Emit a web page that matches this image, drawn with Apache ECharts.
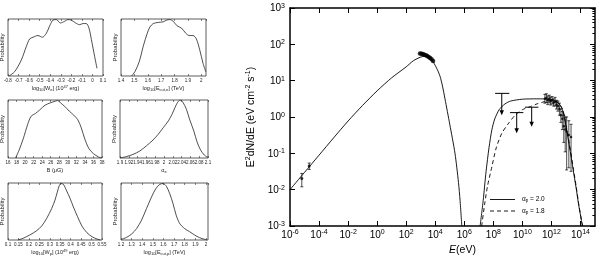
<!DOCTYPE html>
<html><head><meta charset="utf-8">
<script src="https://cdn.jsdelivr.net/npm/echarts@6/dist/echarts.min.js"></script>
<style>html,body{margin:0;padding:0;background:#fff}#c{width:600px;height:257px}</style>
</head><body><div id="c"></div><script>
// ---- posterior panels ----
const p1X = [-0.79,-0.737,-0.674,-0.626,-0.595,-0.563,-0.516,-0.475,-0.437,-0.40,-0.374,-0.342,-0.304,-0.263,-0.232,-0.20,-0.159,-0.121,-0.09,-0.058,-0.033,-0.01,0.021,0.043];
const p1Y = [0.0,0.076,0.28,0.52,0.65,0.68,0.71,0.68,0.75,0.90,0.98,0.99,0.93,0.96,0.99,0.98,0.93,0.90,0.92,0.92,0.84,0.64,0.34,0.135];
const p2X = [1.479,1.504,1.536,1.566,1.596,1.616,1.641,1.678,1.715,1.74,1.765,1.79,1.819,1.852,1.884,1.909,1.938,1.963,1.988,2.013,2.033];
const p2Y = [0,0.076,0.25,0.52,0.75,0.86,0.92,0.94,0.95,0.98,0.99,0.96,0.88,0.84,0.75,0.71,0.71,0.65,0.46,0.22,0.076];
const p3X = [17.78,18.59,19.56,20.61,21.42,22.47,23.44,24.66,25.87,27.08,27.65,28.3,29.27,30.32,31.37,32.34,33.15,33.96,34.93,35.98,37.2,38.0];
const p3Y = [0,0.134,0.33,0.58,0.72,0.77,0.83,0.91,0.95,0.98,0.99,0.95,0.89,0.81,0.74,0.66,0.52,0.33,0.163,0.076,0.017,0];
const p4X = [1.9,1.914,1.929,1.945,1.96,1.975,1.987,1.998,2.01,2.018,2.025,2.031,2.037,2.043,2.051,2.058,2.068,2.075,2.083,2.092,2.1];
const p4Y = [0,0.024,0.06,0.12,0.21,0.31,0.41,0.52,0.64,0.75,0.87,0.96,1.0,0.96,0.84,0.67,0.46,0.28,0.14,0.047,0.012];
const p5X = [0.148,0.172,0.204,0.237,0.261,0.285,0.309,0.325,0.336,0.346,0.354,0.365,0.381,0.397,0.413,0.433,0.454,0.478,0.502,0.526,0.542];
const p5Y = [0,0.03,0.087,0.163,0.244,0.378,0.552,0.70,0.84,0.96,0.99,0.977,0.86,0.73,0.58,0.41,0.244,0.128,0.058,0.017,0];
const p6X = [1.206,1.253,1.3,1.347,1.394,1.44,1.488,1.528,1.566,1.597,1.628,1.66,1.69,1.72,1.753,1.8,1.847,1.894,1.94,1.988,2.009];
const p6Y = [0.012,0.047,0.105,0.20,0.35,0.55,0.756,0.90,0.977,0.99,0.942,0.81,0.64,0.436,0.29,0.2,0.145,0.087,0.041,0.012,0];

// ---- SED ----
const synE = [1e-6,1e-5,1e-4,1e-3,1e-2,0.1,1,10,100,316,1000,1780,3160,7080,1.41e4,2.14e4,3.16e4,4.68e4,1e5,2.29e5,3.98e5,5.13e5,6.76e5];
const synF = [0.01,0.0299,0.0891,0.266,0.776,2.09,5.25,12.0,24.0,35.5,44.7,46.8,44.7,33.1,20.0,13.2,7.08,3.16,0.63,0.1,0.0158,0.005,0.001];
const pp20E = [1.23e7,2.0e7,3.16e7,5.01e7,7.94e7,1.26e8,2.51e8,6.31e8,1.58e9,1e10,1e11,1e12,3.16e12,6.31e12,1.15e13,2.0e13,3.16e13,5.01e13,7.24e13,1.35e14];
const pp20F = [0.001,0.005,0.0316,0.141,0.447,0.891,1.585,2.29,2.75,3.09,3.16,3.02,2.40,1.41,0.398,0.112,0.0347,0.0112,0.00417,0.001];
const pp18E = [1.58e7,2.51e7,3.98e7,7.94e7,1.58e8,3.8e8,1e9,3.16e9,1e10,3.16e10,1e11,3.16e11,1e12,3.16e12,6.31e12,1.15e13,2.0e13,3.16e13,5.01e13,7.94e13,1.41e14];
const pp18F = [0.001,0.00398,0.0126,0.0427,0.141,0.355,0.631,1.12,1.585,1.905,2.29,2.63,2.82,2.40,1.51,0.447,0.126,0.0398,0.0126,0.00355,0.001];
const radioE = [6.5e-6,2.1e-5];
const radioF = [0.0204,0.0447];
const radioLo = [0.012,0.036];
const radioHi = [0.028,0.054];
const xrayE = [891,1122,1413,1778,2239,2818,3548,4467,5623,7079];
const xrayF = [56,55,54,52,50,48,45,42,39,35];
const tevE = [3.55e11,4.47e11,5.62e11,7.08e11,8.91e11,1.12e12,1.41e12,1.78e12,2.24e12,2.82e12,3.55e12,4.47e12,5.62e12,7.08e12,8.91e12,1.12e13,1.58e13,2.24e13];
const tevF = [3.16,3.31,2.88,3.16,2.75,2.88,2.51,2.63,2.19,2.0,1.66,1.12,0.89,0.56,0.45,0.40,0.32,0.28];
const tevLo = [2.40,2.51,2.19,2.45,2.14,2.29,2.0,2.0,1.66,1.45,1.12,0.71,0.45,0.2,0.11,0.035,0.04,0.032];
const tevHi = [4.17,4.37,3.80,3.98,3.55,3.63,3.16,3.47,2.88,2.75,2.40,1.66,1.41,1.12,1.0,1.0,0.79,0.63];
const ulE = [3.8e8,4.07e9,4.37e10];
const ulF = [4.47,1.32,1.86];
const ulLo = [1.32e8,1.41e9,1.5e10];
const ulHi = [1.26e9,1.17e10,1.26e11];
const ulTip = [1.12,0.355,0.537];

const xTicks = [1e-6,1e-4,1e-2,1,1e2,1e4,1e6,1e8,1e10,1e12,1e14];
const yTicks = [1e-3,1e-2,1e-1,1,1e1,1e2,1e3];
const yMinor = [];
for (let e = -3; e < 3; e++) for (let k = 2; k <= 9; k++) yMinor.push(k * Math.pow(10, e));

// ---- layout ----
const sm = {t:{fontSize:5.5}, s:{fontSize:4, padding:[3,0,0,0]}, u:{fontSize:4, padding:[0,0,3,0]}};
const panels = [
  {x:p1X,y:p1Y,min:-0.8,max:0.1,iv:0.1,name:'{t|log}{s|10}{t|[W}{s|e}{t|] (10}{u|47}{t| erg)}',g:{left:8,top:19,width:95,height:57}},
  {x:p2X,y:p2Y,min:1.4,max:2.035,iv:0.1,name:'{t|log}{s|10}{t|[E}{s|cut,e}{t|] (TeV)}',g:{left:121,top:19,width:85,height:57}},
  {x:p3X,y:p3Y,min:16,max:38,iv:2,name:'{t|B (μG)}',g:{left:8,top:100,width:94,height:58}},
  {x:p4X,y:p4Y,min:1.9,max:2.1,iv:0.02,name:'{t|α}{s|e}',g:{left:120,top:100,width:88,height:58}},
  {x:p5X,y:p5Y,min:0.1,max:0.55,iv:0.05,name:'{t|log}{s|10}{t|[W}{s|p}{t|] (10}{u|49}{t| erg)}',g:{left:8,top:183,width:94,height:57}},
  {x:p6X,y:p6Y,min:1.2,max:2.02,iv:0.1,name:'{t|log}{s|10}{t|[E}{s|cut,p}{t|] (TeV)}',g:{left:121,top:183,width:87,height:57}}
];

const grids = [], xAxes = [], yAxes = [], series = [];
panels.forEach((p, i) => {
  grids.push(Object.assign({show:true, borderColor:'#333', borderWidth:0.8, backgroundColor:'rgba(0,0,0,0)', outerBoundsMode:'none', containLabel:false}, p.g));
  xAxes.push({type:'value', gridIndex:i, min:p.min, max:p.max, interval:p.iv,
    axisLine:{show:false}, splitLine:{show:false},
    axisTick:{show:true, inside:true, length:2, lineStyle:{color:'#333', width:0.6}},
    axisLabel:{fontSize:4.5, color:'#222', margin:2, showMaxLabel: (p.max === 0.1 || p.max === 38 || p.max === 2.1 || p.max === 0.55)},
    name:p.name, nameLocation:'middle', nameGap:9, nameTextStyle:{color:'#222', rich:sm}});
  xAxes.push({type:'value', gridIndex:i, position:'top', min:p.min, max:p.max, interval:p.iv,
    axisLine:{show:false}, splitLine:{show:false}, axisLabel:{show:false},
    axisTick:{show:true, inside:true, length:2, lineStyle:{color:'#333', width:0.6}}});
  yAxes.push({type:'value', gridIndex:i, min:0, max:1.0, axisLine:{show:false}, axisTick:{show:false},
    axisLabel:{show:false}, splitLine:{show:false}, name:'Probability', nameLocation:'middle', nameGap:3,
    nameTextStyle:{fontSize:6, color:'#222'}});
  series.push({type:'line', xAxisIndex:2*i, yAxisIndex:i, data:p.x.map((v, j) => [v, p.y[j]]),
    symbol:'none', smooth:0.3, lineStyle:{color:'#222', width:0.8}, silent:true, animation:false});
});

// main SED grid
const G = 6;
grids.push({left:290, top:8, width:305, height:218, show:false, outerBoundsMode:'none', containLabel:false});
const supRich = {b:{fontSize:10, lineHeight:11, padding:[4,0,0,0], verticalAlign:'bottom', color:'#000'},
                 s:{fontSize:7, lineHeight:8, verticalAlign:'top', color:'#000'}};
const powFmt = v => '{b|10}{s|' + Math.round(Math.log10(v)) + '}';
const axLine = {show:true, lineStyle:{color:'#000', width:1.5}};
const XB = xAxes.length;
xAxes.push({type:'log', logBase:10, gridIndex:G, min:1e-6, max:1e15, axisLine:axLine, splitLine:{show:false},
  axisTick:{show:true, inside:true, length:5, customValues:xTicks, lineStyle:{color:'#000', width:1}},
  axisLabel:{customValues:xTicks, formatter:powFmt, rich:supRich, margin:3, color:'#000'},
  name:'{i|E}{n|(eV)}', nameLocation:'middle', nameGap:17,
  nameTextStyle:{padding:[0,0,0,40], rich:{i:{fontSize:10.5, fontStyle:'italic', color:'#000'}, n:{fontSize:10.5, color:'#000'}}}});
xAxes.push({type:'log', logBase:10, gridIndex:G, position:'top', min:1e-6, max:1e15, axisLine:axLine, splitLine:{show:false},
  axisTick:{show:true, inside:true, length:5, customValues:xTicks, lineStyle:{color:'#000', width:1}},
  axisLabel:{show:false}});
const YB = yAxes.length;
const yName = '{n|E}{s|2}{n|dN/dE (eV cm}{s|-2}{n| s}{s|-1}{n|)}';
yAxes.push({type:'log', logBase:10, gridIndex:G, min:1e-3, max:1e3, axisLine:axLine, splitLine:{show:false},
  axisTick:{show:true, inside:true, length:5, customValues:yTicks, lineStyle:{color:'#000', width:1}},
  axisLabel:{customValues:yTicks, formatter:powFmt, rich:supRich, margin:5, color:'#000'},
  name:yName, nameLocation:'middle', nameGap:27, nameRotate:90,
  nameTextStyle:{rich:{n:{fontSize:10.5, lineHeight:12, padding:[3,0,0,0], verticalAlign:'bottom', color:'#000'}, s:{fontSize:7, lineHeight:8, verticalAlign:'top', color:'#000'}}}});
yAxes.push({type:'log', logBase:10, gridIndex:G, min:1e-3, max:1e3, axisLine:{show:false}, splitLine:{show:false},
  axisTick:{show:true, inside:true, length:2.5, customValues:yMinor, lineStyle:{color:'#000', width:0.8}}, axisLabel:{show:false}});
yAxes.push({type:'log', logBase:10, gridIndex:G, position:'right', min:1e-3, max:1e3, axisLine:axLine, splitLine:{show:false},
  axisTick:{show:true, inside:true, length:5, customValues:yTicks, lineStyle:{color:'#000', width:1}}, axisLabel:{show:false}});
yAxes.push({type:'log', logBase:10, gridIndex:G, position:'right', min:1e-3, max:1e3, axisLine:{show:false}, splitLine:{show:false},
  axisTick:{show:true, inside:true, length:2.5, customValues:yMinor, lineStyle:{color:'#000', width:0.8}}, axisLabel:{show:false}});

const zip = (a, b) => a.map((v, i) => [v, b[i]]);
const base = {xAxisIndex:XB, yAxisIndex:YB, animation:false, silent:true};
series.push(Object.assign({type:'line', data:zip(synE, synF), symbol:'none', smooth:0.25, lineStyle:{color:'#000', width:0.9}}, base));
series.push(Object.assign({type:'line', data:zip(pp20E, pp20F), symbol:'none', smooth:0.25, lineStyle:{color:'#000', width:0.9}}, base));
series.push(Object.assign({type:'line', data:zip(pp18E, pp18F), symbol:'none', smooth:0.25, lineStyle:{color:'#000', width:0.9, type:[4,3]}}, base));

function errRender(params, api) {
  const x = api.value(0), lo = api.value(2), hi = api.value(3);
  const a = api.coord([x, lo]), b = api.coord([x, hi]);
  const st = {stroke:'#000', lineWidth:0.7};
  return {type:'group', children:[
    {type:'line', shape:{x1:a[0], y1:a[1], x2:b[0], y2:b[1]}, style:st},
    {type:'line', shape:{x1:a[0]-1.5, y1:a[1], x2:a[0]+1.5, y2:a[1]}, style:st},
    {type:'line', shape:{x1:b[0]-1.5, y1:b[1], x2:b[0]+1.5, y2:b[1]}, style:st}
  ]};
}
series.push(Object.assign({type:'custom', renderItem:errRender, data:radioE.map((e, i) => [e, radioF[i], radioLo[i], radioHi[i]]), encode:{x:0, y:1}}, base));
series.push(Object.assign({type:'scatter', data:zip(radioE, radioF), symbol:'circle', symbolSize:3, itemStyle:{color:'#000'}}, base));
series.push(Object.assign({type:'scatter', data:zip(xrayE, xrayF), symbol:'circle', symbolSize:4.5, itemStyle:{color:'#000'}}, base));
series.push(Object.assign({type:'custom', renderItem:errRender, data:tevE.map((e, i) => [e, tevF[i], tevLo[i], tevHi[i]]), encode:{x:0, y:1}}, base));
series.push(Object.assign({type:'scatter', data:zip(tevE, tevF), symbol:'circle', symbolSize:2.5, itemStyle:{color:'#000'}}, base));
series.push(Object.assign({type:'custom', encode:{x:0, y:1},
  data:ulE.map((e, i) => [e, ulF[i], ulLo[i], ulHi[i], ulTip[i]]),
  renderItem:(params, api) => {
    const e = api.value(0), f = api.value(1);
    const l = api.coord([api.value(2), f]), r = api.coord([api.value(3), f]);
    const top = api.coord([e, f]), tip = api.coord([e, api.value(4)]);
    const st = {stroke:'#000', lineWidth:1};
    return {type:'group', children:[
      {type:'line', shape:{x1:l[0], y1:l[1], x2:r[0], y2:r[1]}, style:st},
      {type:'line', shape:{x1:top[0], y1:top[1], x2:tip[0], y2:tip[1]-3}, style:st},
      {type:'polygon', shape:{points:[[tip[0]-2.2, tip[1]-5], [tip[0]+2.2, tip[1]-5], [tip[0], tip[1]]]}, style:{fill:'#000'}}
    ]};
  }}, base));

const legRich = {a:{fontSize:6.5, color:'#000'}, s:{fontSize:4.5, padding:[3,0,0,0], color:'#000'}};
const option = {
  animation:false,
  backgroundColor:'#fff',
  textStyle:{fontFamily:'Liberation Sans, Arial, sans-serif'},
  grid:grids, xAxis:xAxes, yAxis:yAxes, series:series,
  graphic:[
    {type:'line', shape:{x1:490, y1:199.5, x2:515, y2:199.5}, style:{stroke:'#000', lineWidth:0.9}, silent:true},
    {type:'line', shape:{x1:490, y1:211, x2:515, y2:211}, style:{stroke:'#000', lineWidth:0.9, lineDash:[4,3]}, silent:true},
    {type:'text', x:522, y:199.5, style:{text:'{a|α}{s|p}{a| = 2.0}', rich:legRich, verticalAlign:'middle', fontFamily:'Liberation Sans, Arial, sans-serif'}, silent:true},
    {type:'text', x:522, y:211, style:{text:'{a|α}{s|p}{a| = 1.8}', rich:legRich, verticalAlign:'middle', fontFamily:'Liberation Sans, Arial, sans-serif'}, silent:true}
  ]
};
const chart = echarts.init(document.getElementById('c'), null, {renderer:'canvas'});
chart.setOption(option);
</script></body></html>
